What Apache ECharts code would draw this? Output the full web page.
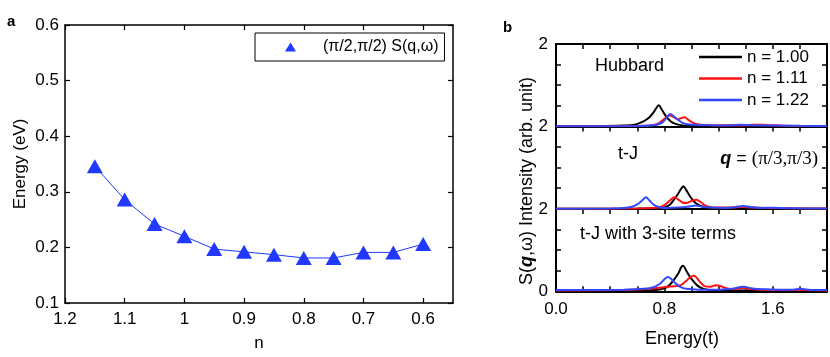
<!DOCTYPE html>
<html>
<head>
<meta charset="utf-8">
<script src="https://cdn.jsdelivr.net/npm/echarts@6/dist/echarts.min.js"></script>
<style>html,body{margin:0;padding:0;background:#fff;}#c{width:830px;height:357px;}</style>
</head>
<body>
<div id="c"></div>
<script>
// ---------- Panel a data ----------
const fillingN = [1.15, 1.10, 1.05, 1.00, 0.95, 0.90, 0.85, 0.80, 0.75, 0.70, 0.65, 0.60];
const peakEnergyEV = [0.346, 0.286, 0.242, 0.220, 0.197, 0.192, 0.187, 0.181, 0.181, 0.191, 0.191, 0.206];
const nTickValues = [1.2, 1.1, 1.0, 0.9, 0.8, 0.7, 0.6];
const legendA = '(π/2,π/2) S(q,ω)';

// ---------- Panel b data: [energy (t), intensity] ----------
const bNames = ['n = 1.00', 'n = 1.11', 'n = 1.22'];
const energyTickLabels = [0, 0.8, 1.6];
const panelTitles = ['Hubbard', 't-J', 't-J with 3-site terms'];

const hubbardN100 = [[0,0.005],[0.3,0.008],[0.5,0.02],[0.58,0.04],[0.645,0.12],[0.69,0.22],[0.72,0.34],[0.74,0.44],[0.758,0.51],[0.78,0.41],[0.80,0.30],[0.83,0.17],[0.86,0.09],[0.91,0.035],[0.97,0.015],[1.1,0.008],[1.5,0.004],[2.0,0.002]];
const hubbardN111 = [[0,0.002],[0.5,0.005],[0.65,0.015],[0.72,0.035],[0.76,0.08],[0.80,0.18],[0.84,0.265],[0.87,0.22],[0.90,0.17],[0.925,0.20],[0.948,0.217],[0.98,0.15],[1.02,0.07],[1.07,0.035],[1.15,0.025],[1.25,0.025],[1.35,0.02],[1.45,0.035],[1.5,0.04],[1.55,0.03],[1.62,0.025],[1.7,0.012],[1.85,0.006],[2.0,0.005]];
const hubbardN122 = [[0,0.002],[0.6,0.008],[0.72,0.025],[0.78,0.08],[0.81,0.18],[0.844,0.30],[0.87,0.24],[0.90,0.16],[0.93,0.09],[0.97,0.05],[1.05,0.03],[1.2,0.02],[1.3,0.025],[1.36,0.04],[1.42,0.025],[1.6,0.02],[1.8,0.012],[2.0,0.008]];

const tjN100 = [[0,0.002],[0.6,0.005],[0.75,0.01],[0.80,0.03],[0.84,0.10],[0.87,0.22],[0.90,0.36],[0.92,0.47],[0.94,0.55],[0.96,0.46],[0.99,0.30],[1.02,0.17],[1.06,0.08],[1.10,0.04],[1.2,0.015],[1.5,0.005],[2.0,0.002]];
const tjN111 = [[0,0.002],[0.6,0.005],[0.70,0.02],[0.76,0.04],[0.80,0.09],[0.84,0.20],[0.874,0.28],[0.90,0.23],[0.93,0.16],[0.96,0.14],[1.00,0.19],[1.035,0.22],[1.07,0.16],[1.10,0.08],[1.14,0.04],[1.2,0.03],[1.3,0.03],[1.37,0.05],[1.45,0.03],[1.6,0.02],[1.8,0.01],[2.0,0.005]];
const tjN122 = [[0,0.002],[0.4,0.005],[0.50,0.02],[0.56,0.05],[0.60,0.11],[0.635,0.20],[0.664,0.28],[0.69,0.20],[0.72,0.10],[0.76,0.04],[0.82,0.02],[0.90,0.03],[0.97,0.05],[1.03,0.08],[1.08,0.05],[1.15,0.03],[1.25,0.02],[1.32,0.04],[1.38,0.07],[1.44,0.04],[1.52,0.02],[1.6,0.025],[1.7,0.015],[1.85,0.01],[2.0,0.005]];

const tj3N100 = [[0,0.02],[0.6,0.02],[0.75,0.04],[0.82,0.10],[0.87,0.28],[0.90,0.42],[0.936,0.62],[0.97,0.45],[1.00,0.30],[1.04,0.15],[1.08,0.07],[1.12,0.04],[1.2,0.025],[1.5,0.02],[2.0,0.02]];
const tj3N111 = [[0,0.02],[0.5,0.03],[0.65,0.05],[0.75,0.08],[0.82,0.11],[0.87,0.12],[0.92,0.15],[0.96,0.25],[0.99,0.34],[1.017,0.38],[1.04,0.32],[1.07,0.20],[1.10,0.12],[1.14,0.11],[1.18,0.15],[1.22,0.12],[1.27,0.06],[1.32,0.05],[1.37,0.08],[1.42,0.06],[1.5,0.04],[1.6,0.03],[1.8,0.03],[2.0,0.02]];
const tj3N122 = [[0,0.03],[0.5,0.04],[0.65,0.06],[0.72,0.10],[0.77,0.19],[0.80,0.29],[0.825,0.35],[0.85,0.30],[0.88,0.20],[0.92,0.10],[0.96,0.06],[1.05,0.04],[1.2,0.04],[1.3,0.06],[1.38,0.11],[1.45,0.07],[1.55,0.05],[1.65,0.04],[1.75,0.04],[1.8,0.06],[1.86,0.04],[2.0,0.03]];

const panelCurves = [
  [hubbardN100, hubbardN111, hubbardN122],
  [tjN100, tjN111, tjN122],
  [tj3N100, tj3N111, tj3N122]
];

// ---------- styling ----------
const FONT = '"Liberation Sans", Arial, Helvetica, sans-serif';
const SERIF = '"Liberation Serif", "Times New Roman", serif';
const bColors = ['#000000', '#ff1111', '#3347ff'];
const triBlue = '#2038ff';

const grids = [], xAxes = [], yAxes = [], series = [];

// Panel a
grids.push({left: 65, top: 25, width: 388, height: 278});
const lineA = {onZero: false, lineStyle: {color: '#000', width: 1.5}};
const tickA = {inside: true, length: 5, lineStyle: {color: '#000', width: 1.2}};
xAxes.push({
  gridIndex: 0, type: 'value', min: 0.55, max: 1.2, inverse: true, position: 'bottom',
  name: 'n', nameLocation: 'middle', nameGap: 32,
  nameTextStyle: {fontSize: 17, color: '#000', fontFamily: FONT},
  axisLine: lineA, axisTick: Object.assign({customValues: nTickValues}, tickA),
  axisLabel: {customValues: nTickValues, formatter: v => String(+(+v).toFixed(2)), fontSize: 17, color: '#000', margin: 8, fontFamily: FONT},
  splitLine: {show: false}
});
xAxes.push({
  gridIndex: 0, type: 'value', min: 0.55, max: 1.2, inverse: true, position: 'top',
  axisLine: lineA, axisTick: Object.assign({customValues: nTickValues}, tickA),
  axisLabel: {show: false}, splitLine: {show: false}
});
yAxes.push({
  gridIndex: 0, type: 'value', min: 0.1, max: 0.6, interval: 0.1, position: 'left',
  name: 'Energy (eV)', nameLocation: 'middle', nameGap: 36, nameRotate: 90,
  nameTextStyle: {fontSize: 17, color: '#000', fontFamily: FONT},
  axisLine: lineA, axisTick: tickA,
  axisLabel: {formatter: v => (+v).toFixed(1), fontSize: 17, color: '#000', margin: 6, fontFamily: FONT},
  splitLine: {show: false}
});
yAxes.push({
  gridIndex: 0, type: 'value', min: 0.1, max: 0.6, interval: 0.1, position: 'right',
  axisLine: lineA, axisTick: tickA, axisLabel: {show: false}, splitLine: {show: false}
});
series.push({
  name: legendA, type: 'line', xAxisIndex: 0, yAxisIndex: 0,
  data: fillingN.map((n, i) => [n, peakEnergyEV[i]]),
  symbol: 'triangle', symbolSize: [16, 14],
  itemStyle: {color: triBlue}, lineStyle: {color: triBlue, width: 1}
});

// Panel b
const panelTops = [44, 126.5, 209];
const panelHeight = 82.3;
const lineB = {onZero: false, lineStyle: {color: '#000', width: 2}};
const tickB = {inside: true, length: 5, lineStyle: {color: '#000', width: 1.5}};
panelTops.forEach((top, p) => {
  const g = grids.length;
  grids.push({left: 556, right: 3, top: top, height: panelHeight});
  const isLast = p === panelTops.length - 1;
  xAxes.push({
    gridIndex: g, type: 'value', min: 0, max: 2, interval: 0.2, position: 'bottom',
    axisLine: lineB,
    axisTick: Object.assign({show: isLast}, tickB),
    axisLabel: isLast ? {customValues: energyTickLabels, formatter: v => (+v).toFixed(1), fontSize: 17, color: '#000', margin: 10, fontFamily: FONT} : {show: false},
    splitLine: {show: false}
  });
  xAxes.push({
    gridIndex: g, type: 'value', min: 0, max: 2, interval: 0.2, position: 'top',
    axisLine: lineB, axisTick: tickB, axisLabel: {show: false}, splitLine: {show: false}
  });
  yAxes.push({
    gridIndex: g, type: 'value', min: 0, max: 2, interval: 0.5, position: 'left',
    axisLine: lineB, axisTick: tickB,
    axisLabel: {customValues: isLast ? [0, 2] : [2], formatter: v => String(Math.round(v)), fontSize: 17, color: '#000', margin: 8, fontFamily: FONT},
    splitLine: {show: false}
  });
  yAxes.push({
    gridIndex: g, type: 'value', min: 0, max: 2, interval: 0.5, position: 'right',
    axisLine: lineB, axisTick: tickB, axisLabel: {show: false}, splitLine: {show: false}
  });
  const xi = xAxes.length - 2, yi = yAxes.length - 2;
  panelCurves[p].forEach((curve, k) => {
    series.push({
      name: bNames[k], type: 'line', xAxisIndex: xi, yAxisIndex: yi,
      data: curve, smooth: 0.35, symbol: 'none', showSymbol: false,
      lineStyle: {color: bColors[k], width: 2}, itemStyle: {color: bColors[k]}
    });
  });
});

const option = {
  animation: false,
  backgroundColor: '#fff',
  textStyle: {fontFamily: FONT},
  grid: grids, xAxis: xAxes, yAxis: yAxes, series: series,
  legend: [
    {
      data: [legendA], left: 255, top: 33, orient: 'horizontal',
      icon: 'triangle', itemWidth: 11, itemHeight: 9,
      padding: [5, 6, 5, 30], borderColor: '#000', borderWidth: 1,
      textStyle: {fontSize: 16, color: '#000', fontFamily: FONT, lineHeight: 18, padding: [0, 0, 0, 22]},
      selectedMode: false
    },
    {
      data: bNames, left: 699, top: 48.5, orient: 'vertical',
      icon: 'rect', itemWidth: 43, itemHeight: 2.5, itemGap: 4.5, padding: 0,
      textStyle: {fontSize: 17, color: '#000', fontFamily: FONT, lineHeight: 17},
      selectedMode: false
    }
  ],
  graphic: [
    {type: 'text', left: 7, top: 14, style: {text: 'a', font: 'bold 15px ' + FONT, fill: '#000'}},
    {type: 'text', left: 503, top: 20, style: {text: 'b', font: 'bold 15px ' + FONT, fill: '#000'}},
    {type: 'text', x: 595, y: 66, style: {text: panelTitles[0], font: '18px ' + FONT, fill: '#000', verticalAlign: 'middle'}},
    {type: 'text', x: 618, y: 154, style: {text: panelTitles[1], font: '18px ' + FONT, fill: '#000', verticalAlign: 'middle'}},
    {type: 'text', x: 580, y: 234, style: {text: panelTitles[2], font: '18px ' + FONT, fill: '#000', verticalAlign: 'middle'}},
    {type: 'text', x: 818, y: 159, style: {
      text: '{q|q}{n| = }{s|(π/3,π/3)}', align: 'right', verticalAlign: 'middle',
      rich: {
        q: {font: 'italic bold 18px ' + FONT, fill: '#000'},
        n: {font: '18px ' + FONT, fill: '#000'},
        s: {font: '19px ' + SERIF, fill: '#000'}
      }
    }},
    {type: 'text', x: 682, y: 339, style: {text: 'Energy(t)', font: '18px ' + FONT, fill: '#000', align: 'center', verticalAlign: 'middle'}},
    {type: 'text', x: 527, y: 181, rotation: Math.PI / 2, style: {
      text: '{n|S(}{q|q}{n|,ω) Intensity (arb. unit)}', align: 'center', verticalAlign: 'middle',
      rich: {
        q: {font: 'italic bold 18px ' + FONT, fill: '#000'},
        n: {font: '18px ' + FONT, fill: '#000'}
      }
    }}
  ]
};

const chart = echarts.init(document.getElementById('c'), null, {renderer: 'canvas'});
chart.setOption(option);
</script>
</body>
</html>
